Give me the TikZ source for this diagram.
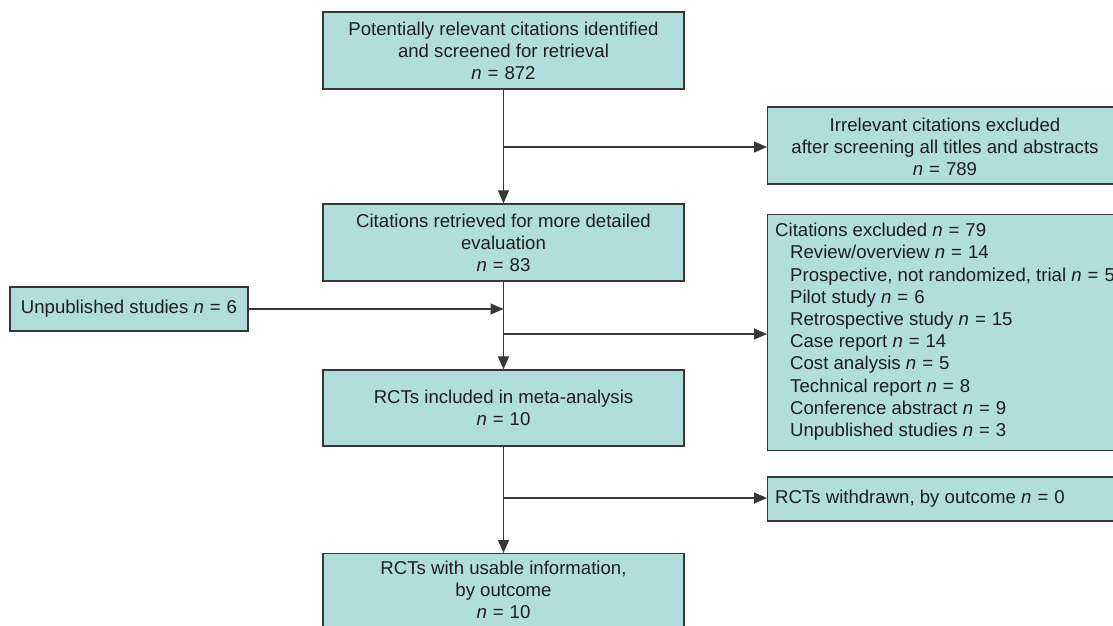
\documentclass[tikz,border=0pt]{standalone}
\usepackage{fontspec}
\setmainfont{Liberation Sans}
\usetikzlibrary{arrows.meta}
\definecolor{boxfill}{RGB}{177,222,218}
\definecolor{boxline}{RGB}{55,55,55}
\definecolor{txt}{RGB}{30,30,30}
\tikzset{
  box/.style={draw=boxline, fill=boxfill, line width=1.3pt, inner sep=0pt,
    text=txt, font=\fontsize{18.6}{22}\selectfont, align=center},
  lbl/.style={text=txt, font=\fontsize{18.6}{22}\selectfont, inner sep=0pt},
  conn/.style={draw=boxline, line width=1.1pt},
  arr/.style={conn, -{Triangle[length=13pt,width=11pt]}}
}
\newcommand{\nn}{\textit{n}\hspace{0.32em}=\hspace{0.32em}}
\begin{document}
\begin{tikzpicture}[x=1pt,y=-1pt]
\useasboundingbox (0,0) rectangle (1113,625);
\clip (0,0) rectangle (1113,625);
\node[box, minimum width=361pt, minimum height=77pt] (b1) at (503.5,50.5)
  {Potentially relevant citations identified\\and screened for retrieval\\\nn872};
\node[box, minimum width=370pt, minimum height=77pt, anchor=west] (b2) at (767,145.5) {};
\node[lbl, align=center] (b2t) at (945,146.5)
  {Irrelevant citations excluded\\after screening all titles and abstracts\\\nn789};
\node[box, minimum width=361pt, minimum height=77pt] (b3) at (503.5,242.5)
  {Citations retrieved for more detailed\\evaluation\\\nn83};
\node[box, minimum width=370pt, minimum height=236pt, anchor=north west] (b4) at (767,214) {};
\node[lbl, font=\fontsize{18.6}{22.2}\selectfont, align=left, anchor=north west] (b4t) at (775,223)
  {Citations excluded \nn79\\
  \hspace*{15pt}Review/overview \nn14\\
  \hspace*{15pt}Prospective, not randomized, trial \nn5\\
  \hspace*{15pt}Pilot study \nn6\\
  \hspace*{15pt}Retrospective study \nn15\\
  \hspace*{15pt}Case report \nn14\\
  \hspace*{15pt}Cost analysis \nn5\\
  \hspace*{15pt}Technical report \nn8\\
  \hspace*{15pt}Conference abstract \nn9\\
  \hspace*{15pt}Unpublished studies \nn3};
\node[box, minimum width=238pt, minimum height=44pt] (up) at (129,309)
  {Unpublished studies \nn6};
\node[box, minimum width=361pt, minimum height=76pt] (b5) at (503.5,408)
  {RCTs included in meta-analysis\\\nn10};
\node[box, minimum width=370pt, minimum height=44pt, anchor=west] (b6) at (767,499) {};
\node[lbl, anchor=west] (b6t) at (775,499)
  {RCTs withdrawn, by outcome \nn0};
\node[box, minimum width=361pt, minimum height=90pt, anchor=north] (b7) at (503.5,553) {};
\node[lbl, align=center, anchor=north] (b7t) at (503.5,561)
  {RCTs with usable information,\\by outcome\\\nn10};
% connectors
\coordinate (j1) at (503.5,147);
\coordinate (j2) at (503.5,309);
\coordinate (j3) at (503.5,334);
\coordinate (j4) at (503.5,498);
\draw[arr] (b1.south) -- (b3.north);
\draw[arr] (j1) -- (b2.west |- j1);
\draw[arr] (b3.south) -- (b5.north);
\draw[arr] (up.east) -- (j2);
\draw[arr] (j3) -- (b4.west |- j3);
\draw[arr] (b5.south) -- (b7.north);
\draw[arr] (j4) -- (b6.west |- j4);
\end{tikzpicture}
\end{document}
